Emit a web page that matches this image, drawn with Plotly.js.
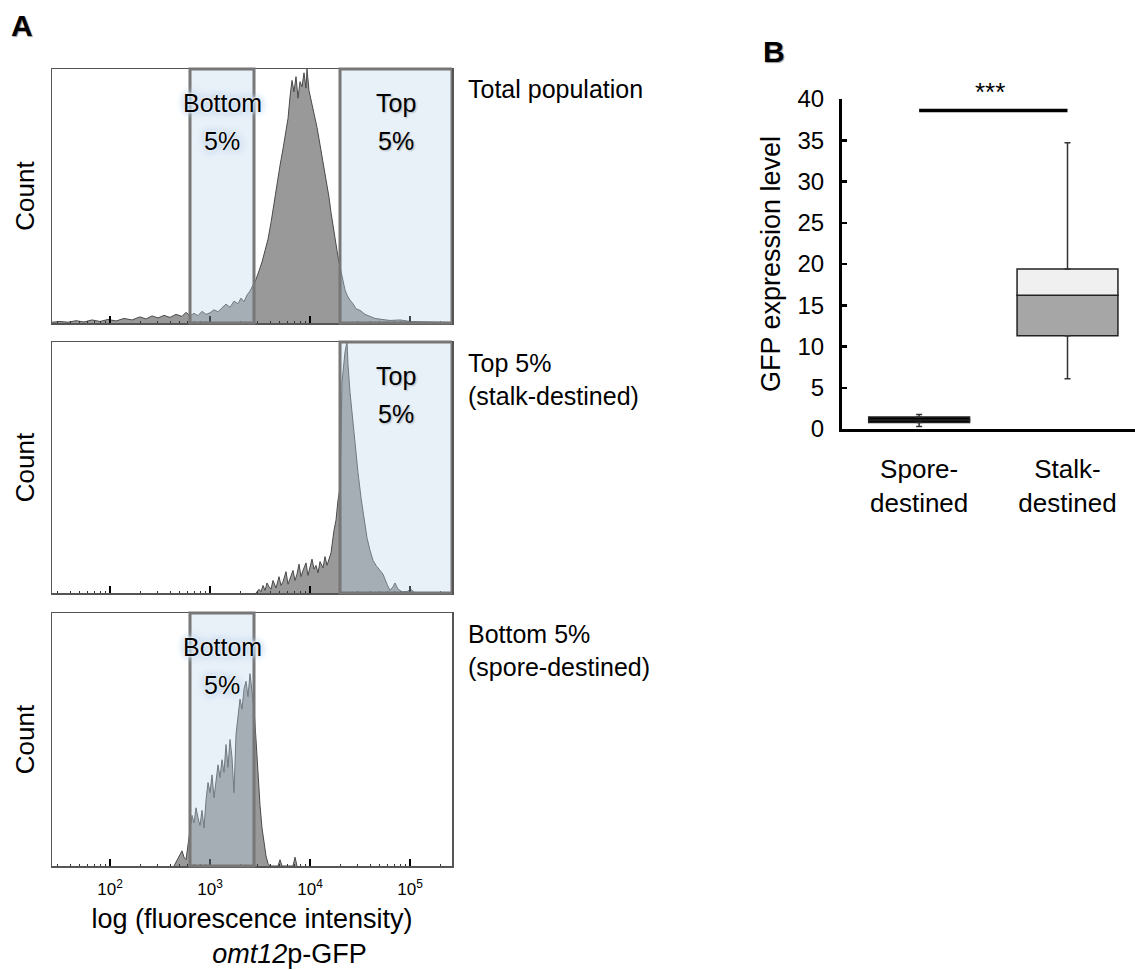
<!DOCTYPE html>
<html><head><meta charset="utf-8">
<script src="https://cdn.plot.ly/plotly-3.0.1.min.js"></script>
<style>html,body{margin:0;padding:0;background:#fff;}#chart{width:1135px;height:970px;}</style>
</head><body><div id="chart"></div>
<script>
// ---------- Panel A data (x = log10 fluorescence intensity, y = relative count) ----------
const totalLog = [1.42,1.50,1.58,1.66,1.74,1.82,1.90,1.98,2.06,2.14,2.22,2.30,2.36,2.42,2.48,2.54,2.60,2.66,2.72,2.76,2.80,2.84,2.88,2.92,2.96,3.00,3.04,3.08,3.12,3.16,3.20,3.24,3.28,3.31,3.34,3.37,3.40,3.43,3.46,3.49,3.52,3.55,3.58,3.61,3.64,3.67,3.70,3.73,3.76,3.78,3.80,3.82,3.84,3.86,3.88,3.90,3.92,3.94,3.96,3.97,3.99,4.01,4.03,4.05,4.07,4.09,4.11,4.13,4.15,4.17,4.19,4.21,4.23,4.25,4.27,4.29,4.31,4.33,4.35,4.37,4.40,4.43,4.46,4.50,4.55,4.60,4.65,4.72,4.80,4.90,5.00,5.10,5.25,5.42];
const totalCount = [0.3,0.6,0.3,0.9,0.4,1.2,0.6,1.4,0.8,1.8,1.2,2.4,1.6,2.8,2.0,3.0,2.2,3.4,2.6,4.2,2.8,3.8,2.9,4.6,3.4,4.0,5.2,4.4,6.0,7.4,6.2,8.6,7.6,9.8,8.4,11.0,12.6,14.8,17.2,20.5,24.0,28.5,33.0,39.5,47.0,56.0,62.0,68.5,76.0,80.5,89.0,95.5,91.0,97.0,88.5,95.0,93.0,98.5,92.5,100,91.5,88.0,85.0,80.5,77.0,72.5,68.0,63.5,58.5,54.5,49.5,43.5,38.0,33.0,28.5,24.0,20.0,16.5,13.0,11.0,9.0,7.6,5.6,5.0,3.4,2.6,1.8,1.4,1.0,1.2,0.6,0.5,0.3,0.2];

const topLog = [3.46,3.49,3.51,3.53,3.55,3.57,3.59,3.61,3.63,3.66,3.69,3.71,3.73,3.76,3.78,3.80,3.83,3.85,3.87,3.89,3.91,3.93,3.96,3.98,4.00,4.02,4.04,4.06,4.08,4.10,4.13,4.15,4.17,4.19,4.21,4.24,4.26,4.28,4.30,4.32,4.34,4.35,4.37,4.38,4.40,4.41,4.43,4.45,4.48,4.51,4.54,4.57,4.60,4.63,4.66,4.70,4.73,4.77,4.80,4.83,4.85,4.88,4.92,4.97,5.01,5.04,5.10];
const topCount = [0,1.5,0.5,3.0,1.0,4.0,2.5,1.5,5.0,2.0,6.5,3.0,4.5,8.5,3.5,6.0,9.0,5.0,7.5,11.5,6.5,9.0,12.0,7.0,10.5,13.5,9.5,11.0,8.0,12.5,10.0,14.5,11.0,13.5,16.0,25.0,29.0,37.0,42.0,84.0,92.0,96.0,100,91.0,80.0,76.0,65.0,58.0,48.0,38.0,30.0,22.0,17.0,13.0,11.0,9.0,7.5,3.5,1.0,2.5,4.0,1.5,0.5,0.5,1.5,0.3,0];

const bottomLog = [2.64,2.67,2.70,2.72,2.74,2.76,2.78,2.80,2.82,2.84,2.86,2.88,2.90,2.92,2.94,2.96,2.98,3.00,3.02,3.04,3.06,3.08,3.10,3.12,3.14,3.16,3.18,3.20,3.22,3.24,3.26,3.28,3.30,3.32,3.34,3.36,3.38,3.40,3.42,3.44,3.46,3.48,3.50,3.52,3.54,3.56,3.58,3.60,3.68,3.70,3.72,3.83,3.85,3.87];
const bottomCount = [0,2,4.5,6,3.5,2.5,8,15,20,17,23,19,16,22,15,26,33,29,36,27,33,40,35,42,37,48,39,50,43,29,52,58,66,62,70,73,67,76,70,62,50,35,24,15,9,4,1,0,0,2.5,0,0,3.5,0];

const gateBottom = [2.80, 3.44];   // log10 bounds of the "Bottom 5%" gate
const gateTop = [4.30, 5.42];      // log10 bounds of the "Top 5%" gate
const xRangeLog = [1.42, 5.42];
const decadeTicks = [2, 3, 4, 5];
const decadeLabels = ['10<sup>2</sup>', '10<sup>3</sup>', '10<sup>4</sup>', '10<sup>5</sup>'];
const sideLabels = ['Total population', 'Top 5%<br>(stalk-destined)', 'Bottom 5%<br>(spore-destined)'];
const gateTextTop = ['Top', '5%'];
const gateTextBottom = ['Bottom', '5%'];
const xTitleA = ['log (fluorescence intensity)', '<i>omt12</i>p-GFP'];

// ---------- Panel B data ----------
const categories = ['Spore-<br>destined', 'Stalk-<br>destined'];
const whiskerLow = [0.3, 6.1];
const q1 = [0.8, 11.3];
const median = [1.1, 16.2];
const q3 = [1.45, 19.4];
const whiskerHigh = [1.75, 34.7];
const lowerFill = ['#000000', '#a6a6a6'];
const upperFill = ['#000000', '#f0f0f0'];
const yTicksB = [0, 5, 10, 15, 20, 25, 30, 35, 40];
const sigY = 38.6;
const sigLabel = '***';

// ---------- helpers ----------
const W = 1135, H = 970;
const X = px => px / W;
const Y = py => 1 - py / H;
const FONT = 'Liberation Sans, Arial, Helvetica, sans-serif';
const NBSP = '\u00a0';

const minorVals = [];
for (let n = 1; n <= 5; n++) for (let k = 2; k <= 9; k++) {
  const v = Math.log10(k * Math.pow(10, n));
  if (v > xRangeLog[0] && v < xRangeLog[1]) minorVals.push(v);
}

function histTrace(xs, ys, xa, ya) {
  return {type: 'scatter', mode: 'lines', x: xs, y: ys, xaxis: xa, yaxis: ya,
    fill: 'tozeroy', fillcolor: '#999999', line: {color: '#4a4a4a', width: 1},
    showlegend: false, hoverinfo: 'skip'};
}

const data = [
  histTrace(totalLog, totalCount, 'x', 'y'),
  histTrace(topLog, topCount, 'x2', 'y2'),
  histTrace(bottomLog, bottomCount, 'x3', 'y3'),
  // Panel B boxes drawn as stacked bars (Q1->median, median->Q3)
  {type: 'bar', x: categories, base: q1, y: median.map((m, i) => m - q1[i]), xaxis: 'x4', yaxis: 'y4',
    width: 0.68, marker: {color: lowerFill, line: {color: '#222', width: 1.5}}, showlegend: false, hoverinfo: 'skip'},
  {type: 'bar', x: categories, base: median, y: q3.map((v, i) => v - median[i]), xaxis: 'x4', yaxis: 'y4',
    width: 0.68, marker: {color: upperFill, line: {color: '#222', width: 1.5}}, showlegend: false, hoverinfo: 'skip'},
  // whiskers
  {type: 'scatter', mode: 'markers', x: categories, y: q3, xaxis: 'x4', yaxis: 'y4', marker: {size: 0.1, color: 'rgba(0,0,0,0)'},
    error_y: {type: 'data', symmetric: false, array: whiskerHigh.map((v, i) => v - q3[i]), arrayminus: [0, 0], color: '#333', thickness: 1.5, width: 3},
    showlegend: false, hoverinfo: 'skip', cliponaxis: false},
  {type: 'scatter', mode: 'markers', x: categories, y: q1, xaxis: 'x4', yaxis: 'y4', marker: {size: 0.1, color: 'rgba(0,0,0,0)'},
    error_y: {type: 'data', symmetric: false, array: [0, 0], arrayminus: q1.map((v, i) => v - whiskerLow[i]), color: '#333', thickness: 1.5, width: 3},
    showlegend: false, hoverinfo: 'skip', cliponaxis: false}
];

function histX(showLabels) {
  return {domain: [X(52), X(452)], range: xRangeLog, type: 'linear', showgrid: false, zeroline: false,
    showline: true, mirror: true, linecolor: '#555', linewidth: 1.5,
    tickmode: 'array', tickvals: decadeTicks, ticktext: decadeLabels, ticks: 'inside', ticklen: 7, tickwidth: 2, tickcolor: '#000',
    showticklabels: showLabels, tickfont: {family: FONT, size: 17, color: '#000'}, ticklabelstandoff: 7,
    minor: {tickmode: 'array', tickvals: minorVals, ticks: 'inside', ticklen: 2.5, tickwidth: 1, tickcolor: '#333'}};
}
function histY(dom) {
  return {domain: dom, range: [0, 100], showgrid: false, zeroline: false, showline: true, mirror: true,
    linecolor: '#555', linewidth: 1.5, ticks: '', showticklabels: false,
    title: {text: 'Count', font: {family: FONT, size: 26, color: '#000'}, standoff: 8}};
}

const layout = {
  width: W, height: H, margin: {l: 0, r: 0, t: 0, b: 0}, paper_bgcolor: '#fff', plot_bgcolor: '#fff',
  font: {family: FONT, color: '#000'}, showlegend: false, barmode: 'overlay',
  xaxis: Object.assign(histX(false), {anchor: 'y'}),
  yaxis: Object.assign(histY([Y(323), Y(69)]), {anchor: 'x'}),
  xaxis2: Object.assign(histX(false), {anchor: 'y2'}),
  yaxis2: Object.assign(histY([Y(593), Y(342)]), {anchor: 'x2'}),
  xaxis3: Object.assign(histX(true), {anchor: 'y3',
    title: {text: xTitleA[0] + '<br>' + NBSP.repeat(10) + xTitleA[1], font: {family: FONT, size: 27, color: '#000'}, standoff: 11}}),
  yaxis3: Object.assign(histY([Y(866), Y(613)]), {anchor: 'x3'}),
  xaxis4: {domain: [X(842), 1], anchor: 'y4', type: 'category', range: [-0.52, 1.455], showgrid: false, zeroline: false,
    showline: true, linecolor: '#000', linewidth: 3, ticks: '', tickfont: {family: FONT, size: 26, color: '#000'}, ticklabelstandoff: 15},
  yaxis4: {domain: [Y(429), Y(99)], anchor: 'x4', range: [0, 40], showgrid: false, zeroline: false,
    showline: true, linecolor: '#000', linewidth: 3, tickmode: 'array', tickvals: yTicksB,
    ticks: 'inside', ticklen: 5, tickwidth: 2.5, tickcolor: '#000', ticklabelstandoff: 10,
    tickfont: {family: FONT, size: 24, color: '#000'},
    title: {text: 'GFP expression level', font: {family: FONT, size: 27, color: '#000'}, standoff: 10}},
  shapes: [],
  annotations: []
};

// gates
function gate(bounds, xa, ya) {
  layout.shapes.push({type: 'rect', layer: 'above', xref: xa, yref: ya + ' domain', x0: bounds[0], x1: bounds[1], y0: 0, y1: 1,
    fillcolor: 'rgba(188,211,234,0.34)', line: {color: '#777777', width: 3}});
}
gate(gateBottom, 'x', 'y');
gate(gateTop, 'x', 'y');
gate(gateTop, 'x2', 'y2');
gate(gateBottom, 'x3', 'y3');

// gate labels
const bubble = '0 0 1px #ffffff, 0 0 3px #ffffff, 0 0 5px #c9dcf0, 0 0 7px #c9dcf0, 0 0 10px #a9c2dd';
const soft = '1px 1px 2px rgba(0,0,0,0.25)';
function gateLabel(lines, bounds, xa, ya, shadow) {
  const cx = (bounds[0] + bounds[1]) / 2;
  [86.5, 71.5].forEach((yy, i) => layout.annotations.push({x: cx, y: yy, xref: xa, yref: ya, text: lines[i], showarrow: false,
    xanchor: 'center', yanchor: 'middle', font: {family: FONT, size: 25, color: '#000', shadow: shadow}}));
}
gateLabel(gateTextBottom, gateBottom, 'x', 'y', bubble);
gateLabel(gateTextTop, gateTop, 'x', 'y', soft);
gateLabel(gateTextTop, gateTop, 'x2', 'y2', soft);
gateLabel(gateTextBottom, gateBottom, 'x3', 'y3', bubble);

// side labels
const sideY = [89, 380, 650];
sideLabels.forEach((t, p) => layout.annotations.push({
  x: X(466), y: Y(sideY[p]), xref: 'paper', yref: 'paper', text: t, showarrow: false, align: 'left',
  xanchor: 'left', yanchor: 'middle', font: {family: FONT, size: 25, color: '#000'}}));

// panel letters
const letterFont = {family: FONT, size: 30, weight: 'bold', color: '#000', shadow: '1px 1px 1px rgba(0,0,0,0.4)'};
layout.annotations.push({x: X(22), y: Y(25), xref: 'paper', yref: 'paper', text: 'A', showarrow: false,
  xanchor: 'center', yanchor: 'middle', font: letterFont});
layout.annotations.push({x: X(774), y: Y(51), xref: 'paper', yref: 'paper', text: 'B', showarrow: false,
  xanchor: 'center', yanchor: 'middle', font: letterFont});

// significance bar
layout.shapes.push({type: 'line', layer: 'above', xref: 'x4', yref: 'y4', x0: 0, x1: 1, y0: sigY, y1: sigY, line: {color: '#000', width: 3.5}});
layout.annotations.push({x: 0.48, y: Y(92), xref: 'x4', yref: 'paper', text: sigLabel, showarrow: false,
  xanchor: 'center', yanchor: 'middle', font: {family: FONT, size: 26, color: '#000'}});

Plotly.newPlot('chart', data, layout, {staticPlot: true, displayModeBar: false});
</script></body></html>
